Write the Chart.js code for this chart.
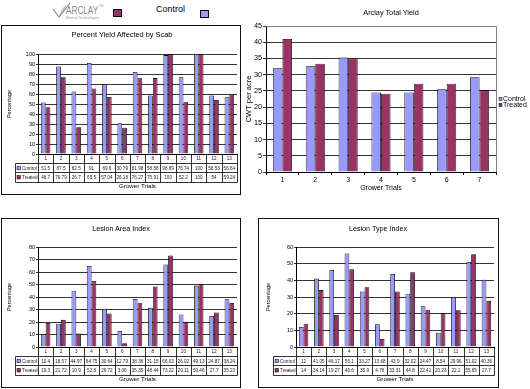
<!DOCTYPE html>
<html><head><meta charset="utf-8">
<script src="https://cdn.jsdelivr.net/npm/chart.js@4.4.0/dist/chart.umd.min.js"></script>
<style>
html,body{margin:0;padding:0;background:#fff;}
body{width:530px;height:389px;position:relative;overflow:hidden;font-family:"Liberation Sans",Arial,sans-serif;color:#000;}
.box{position:absolute;border:1px solid #111;box-sizing:border-box;}
canvas{position:absolute;}
.t{position:absolute;white-space:nowrap;line-height:1;transform:translate(-50%,-50%);}
.sq{position:absolute;width:9px;height:8px;border:1px solid #000;box-sizing:border-box;}
</style></head>
<body>
<svg style="position:absolute;left:50px;top:1px" width="20" height="18">
  <polyline points="3,8 9,16 20,2" fill="none" stroke="#8a8a8a" stroke-width="1.2"/>
  <line x1="9" y1="16" x2="16" y2="4" stroke="#9a9a9a" stroke-width="0.8"/>
  <line x1="9" y1="16" x2="13" y2="6" stroke="#aaa" stroke-width="0.6"/>
</svg>
<div style="position:absolute;left:66px;top:5px;font-size:10.5px;line-height:1;color:#888;transform:scaleX(0.78);transform-origin:0 0;white-space:nowrap">ARCLAY</div>
<div style="position:absolute;left:99px;top:4px;font-size:6px;line-height:1;color:#999;transform:scale(0.5);transform-origin:0 0">TM</div>
<div style="position:absolute;left:66px;top:15.5px;font-size:7.2px;line-height:1;color:#999;transform:scale(0.5);transform-origin:0 0;white-space:nowrap">Natural Technologies</div>
<div class="sq" style="left:113px;top:9px;background:#993366"></div>
<div style="position:absolute;left:156px;top:5.4px;font-size:9px;line-height:1">Control</div>
<div class="sq" style="left:200px;top:10px;background:#9999FF"></div>

<div class="box" style="left:1px;top:25px;width:240px;height:170px"></div>
<canvas id="c1" width="238" height="168" style="left:2px;top:26px"></canvas>
<div class="t" style="left:122px;top:35px;font-size:7.4px">Percent Yield Affected by Scab</div>

<canvas id="c2" width="290" height="200" style="left:240px;top:0px"></canvas>
<div class="t" style="left:391px;top:12.5px;font-size:7.3px">Arclay Total Yield</div>

<div class="box" style="left:1px;top:218px;width:240px;height:170px"></div>
<canvas id="c3" width="238" height="168" style="left:2px;top:219px"></canvas>
<div class="t" style="left:121px;top:228.5px;font-size:7.2px">Lesion Area Index</div>

<div class="box" style="left:258px;top:218px;width:241px;height:170px"></div>
<canvas id="c4" width="239" height="168" style="left:259px;top:219px"></canvas>
<div class="t" style="left:378px;top:228.5px;font-size:7.2px">Lesion Type Index</div>

<script>
// ---- data ----
const trials13 = ['1','2','3','4','5','6','7','8','9','10','11','12','13'];
const seriesNames = ['Control','Treated'];
const scabControl = [51.5, 87.5, 62.5, 91, 69.6, 30.79, 81.98, 58.58, 98.89, 76.74, 100, 58.53, 56.64];
const scabTreated = [46.7, 76.79, 26.7, 65.5, 57.04, 26.18, 76.27, 75.91, 100, 52.2, 100, 54, 59.24];
const yieldTrials = ['1','2','3','4','5','6','7'];
const yieldControl = [32, 32.6, 35.3, 24.5, 24.5, 25.5, 29.2];
const yieldTreated = [41, 33.4, 34.9, 24.1, 27.2, 27.2, 25.2];
const laiControl = [10.4, 18.57, 44.97, 64.75, 30.64, 12.79, 38.36, 31.15, 66.03, 26.02, 49.13, 24.87, 38.24];
const laiTreated = [19.3, 21.72, 10.9, 52.8, 26.72, 3.06, 35.35, 48.44, 73.22, 20.11, 50.46, 27.7, 35.23];
const ltiControl = [12, 41.05, 46.17, 56.1, 33.27, 13.68, 43.9, 32.02, 24.47, 8.54, 29.96, 51.02, 40.36];
const ltiTreated = [14, 34.14, 19.27, 46.6, 35.9, 4.76, 33.31, 44.8, 22.41, 20.23, 22.1, 55.65, 27.7];

const FONT = "'Liberation Sans', Arial, sans-serif";
const BLUE = '#9999FF', RED = '#993366';
Chart.defaults.font.family = FONT;
Chart.defaults.color = '#000';
Chart.defaults.animation = false;

const tablePlugin = {
  id: 'dtable',
  afterDraw(chart, args, o) {
    const {ctx, chartArea: ca} = chart;
    const x = chart.scales.x;
    const labels = chart.data.labels;
    const n = labels.length;
    const centers = labels.map((_, i) => x.getPixelForValue(i));
    const bounds = [ca.left];
    for (let i = 1; i < n; i++) bounds.push((centers[i-1] + centers[i]) / 2);
    bounds.push(ca.right);
    const r = o.rowH, L = o.left;
    const y0 = ca.bottom, y1 = y0 + r, y2 = y1 + r, y3 = y2 + r;
    const px = v => Math.round(v) + 0.5;
    ctx.save();
    ctx.strokeStyle = '#000'; ctx.lineWidth = 0.8;
    ctx.beginPath();
    [y1, y2, y3].forEach(y => { ctx.moveTo(px(L), px(y)); ctx.lineTo(px(ca.right), px(y)); });
    ctx.moveTo(px(L), px(y1)); ctx.lineTo(px(L), px(y3));
    bounds.forEach(b => { ctx.moveTo(px(b), px(y0)); ctx.lineTo(px(b), px(y3)); });
    ctx.stroke();
    ctx.font = o.fontSize + 'px ' + FONT;
    ctx.textBaseline = 'middle';
    ctx.fillStyle = '#222'; ctx.textAlign = 'center';
    labels.forEach((lab, i) => ctx.fillText(lab, centers[i], y0 + r / 2 + 0.5));
    chart.data.datasets.forEach((ds, k) => {
      const yy = (k === 0 ? y1 : y2) + r / 2 + 0.5;
      ctx.fillStyle = '#222'; ctx.textAlign = 'center';
      ds.data.forEach((v, i) => ctx.fillText(String(v), centers[i], yy));
      ctx.fillStyle = ds.backgroundColor;
      ctx.fillRect(L + 2, yy - 2, 3.5, 3.5);
      ctx.lineWidth = 0.5; ctx.strokeRect(L + 2, yy - 2, 3.5, 3.5);
      ctx.fillStyle = '#222'; ctx.textAlign = 'left';
      ctx.fillText(ds.label, L + 7, yy);
    });
    ctx.restore();
  }
};

function indexChart(id, ctrl, trt, yMax, g) {
  return new Chart(document.getElementById(id), {
    type: 'bar',
    data: { labels: trials13, datasets: [
      { label: seriesNames[0], data: ctrl, backgroundColor: BLUE, borderColor: '#000', borderWidth: 0.8, categoryPercentage: 0.62, barPercentage: 1 },
      { label: seriesNames[1], data: trt, backgroundColor: RED, borderColor: '#000', borderWidth: 0.8, categoryPercentage: 0.62, barPercentage: 1 }
    ]},
    options: {
      responsive: false, animation: false,
      layout: { padding: { left: 0, top: 28, right: g.right, bottom: 0 } },
      plugins: { legend: { display: false }, tooltip: { enabled: false }, dtable: { left: g.tableLeft, rowH: 9.2, fontSize: 4.6 } },
      scales: {
        x: { ticks: { display: false }, grid: { display: false }, border: { color: '#000', width: 1 },
             title: { display: true, text: 'Grower Trials', font: { size: 6.2 }, padding: { top: 0, bottom: 3.8 } },
             afterFit: s => { s.height = 40; } },
        y: { min: 0, max: yMax, ticks: { stepSize: 10, font: { size: 5.5 }, padding: 1 },
             grid: { color: '#000', lineWidth: 0.8, tickLength: 2 }, border: { color: '#000', width: 1 },
             title: { display: true, text: 'Percentage', font: { size: 5.5 }, padding: { top: g.titlePad, bottom: 0 } },
             afterFit: s => { s.width = g.yW; } }
      }
    },
    plugins: [tablePlugin]
  });
}

indexChart('c1', scabControl, scabTreated, 100, { right: 3, yW: 36, tableLeft: 13, titlePad: 3.7 });
indexChart('c3', laiControl, laiTreated, 80, { right: 3, yW: 36, tableLeft: 13, titlePad: 4.2 });
indexChart('c4', ltiControl, ltiTreated, 60, { right: 4, yW: 37, tableLeft: 14, titlePad: 5.7 });

const framePlugin = {
  id: 'frame',
  beforeDatasetsDraw(chart) {
    const {ctx, chartArea: ca} = chart;
    ctx.save();
    ctx.strokeStyle = '#808080'; ctx.lineWidth = 1;
    ctx.beginPath();
    ctx.moveTo(Math.round(ca.left), Math.round(ca.top) + 0.5);
    ctx.lineTo(Math.round(ca.right) + 0.5, Math.round(ca.top) + 0.5);
    ctx.lineTo(Math.round(ca.right) + 0.5, Math.round(ca.bottom));
    ctx.stroke();
    ctx.restore();
  }
};
const sideLegend = {
  id: 'sideLegend',
  afterDraw(chart, args, o) {
    const {ctx} = chart;
    ctx.save();
    ctx.font = o.fontSize + 'px ' + FONT;
    ctx.textBaseline = 'middle'; ctx.textAlign = 'left';
    chart.data.datasets.forEach((ds, k) => {
      const y = o.y + k * o.gap;
      ctx.fillStyle = ds.backgroundColor;
      ctx.fillRect(o.x, y - 1.5, 3, 3);
      ctx.strokeStyle = '#000'; ctx.lineWidth = 0.5; ctx.strokeRect(o.x, y - 1.5, 3, 3);
      ctx.fillStyle = '#000';
      ctx.fillText(ds.label, o.x + 4, y);
    });
    ctx.restore();
  }
};

new Chart(document.getElementById('c2'), {
  type: 'bar',
  data: { labels: yieldTrials, datasets: [
    { label: seriesNames[0], data: yieldControl, backgroundColor: BLUE, borderColor: '#000', borderWidth: 0.8, categoryPercentage: 0.58, barPercentage: 1 },
    { label: seriesNames[1], data: yieldTreated, backgroundColor: RED, borderColor: '#000', borderWidth: 0.8, categoryPercentage: 0.58, barPercentage: 1 }
  ]},
  options: {
    responsive: false, animation: false,
    layout: { padding: { left: 0, top: 26, right: 34, bottom: 0 } },
    plugins: { legend: { display: false }, tooltip: { enabled: false }, sideLegend: { x: 259, y: 99, gap: 6, fontSize: 7 } },
    scales: {
      x: { ticks: { font: { size: 7 }, padding: 1 }, grid: { drawOnChartArea: false, color: '#000', tickLength: 3 },
           border: { color: '#000', width: 1 },
           title: { display: true, text: 'Grower Trials', font: { size: 7 }, padding: { top: 0, bottom: 7.8 } },
           afterFit: s => { s.height = 28; } },
      y: { min: 0, max: 45, ticks: { stepSize: 5, font: { size: 7.3 }, padding: 1 },
           grid: { color: '#000', lineWidth: 0.8, tickLength: 3 }, border: { color: '#000', width: 1 },
           title: { display: true, text: 'CWT per acre', font: { size: 7.5 }, padding: { top: 4.5, bottom: 0 } },
           afterFit: s => { s.width = 26; } }
    }
  },
  plugins: [framePlugin, sideLegend]
});
</script>
</body></html>
